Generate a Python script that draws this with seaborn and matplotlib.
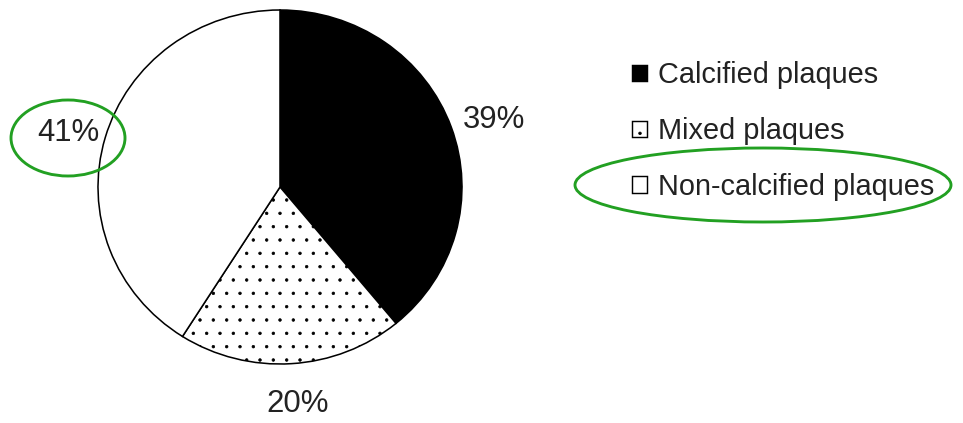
import matplotlib
matplotlib.use("Agg")
import matplotlib.pyplot as plt
from matplotlib.patches import Ellipse, Patch
import seaborn as sns

categories = ["Calcified plaques", "Mixed plaques", "Non-calcified plaques"]
values = [39, 20, 41]
pct_labels = ["39%", "20%", "41%"]
face_colors = ["black", "white", "white"]
hatches = ["", ".", ""]

sns.set_style("white")
plt.rcParams["font.family"] = ["Liberation Sans", "DejaVu Sans"]
plt.rcParams["hatch.linewidth"] = 0.6

DPI = 80
W, H = 963, 423
fig = plt.figure(figsize=(W / DPI, H / DPI), dpi=DPI)
fig.patch.set_facecolor("white")

# pie axes: pixel box (left 98, top 10, 364 x 354)
ax = fig.add_axes([98 / W, (H - 10 - 354) / H, 364 / W, 354 / H])
wedges, texts = ax.pie(
    values,
    labels=pct_labels,
    colors=face_colors,
    startangle=90,
    counterclock=False,
    labeldistance=1.23,
    wedgeprops=dict(edgecolor="black", linewidth=1.4),
    textprops=dict(fontsize=28, color="#222222"),
)
for w, h in zip(wedges, hatches):
    w.set_hatch(h)
for t in texts:
    t.set_ha("center")
    t.set_va("center")
    x, y = t.get_position()
    dy = -0.04 if abs(x) > 0.5 else 0.0
    t.set_position((x + 0.02, y + dy))
ax.set_aspect("auto")
ax.set_xlim(-1, 1)
ax.set_ylim(-1, 1)
ax.axis("off")

# legend
handles = [
    Patch(facecolor=c, edgecolor="black", hatch=h, linewidth=1.3, label=lab)
    for c, h, lab in zip(face_colors, hatches, categories)
]
leg = fig.legend(
    handles=handles,
    loc="upper left",
    bbox_to_anchor=(618 / W, 1 - 47 / H),
    frameon=False,
    fontsize=26,
    handlelength=0.5,
    handleheight=0.5,
    handletextpad=0.4,
    labelspacing=0.96,
    borderpad=0,
)
for t in leg.get_texts():
    t.set_color("#222222")

# green annotation ellipses in pixel coordinates
ov = fig.add_axes([0, 0, 1, 1])
ov.set_xlim(0, W)
ov.set_ylim(H, 0)
ov.axis("off")
ov.patch.set_alpha(0)
green = "#22a022"
ov.add_patch(Ellipse((68, 138), 114, 76, fill=False, edgecolor=green, linewidth=2.6))
ov.add_patch(Ellipse((763, 185), 376, 74, fill=False, edgecolor=green, linewidth=2.6))

fig.savefig("out.png", dpi=DPI, facecolor="white")
